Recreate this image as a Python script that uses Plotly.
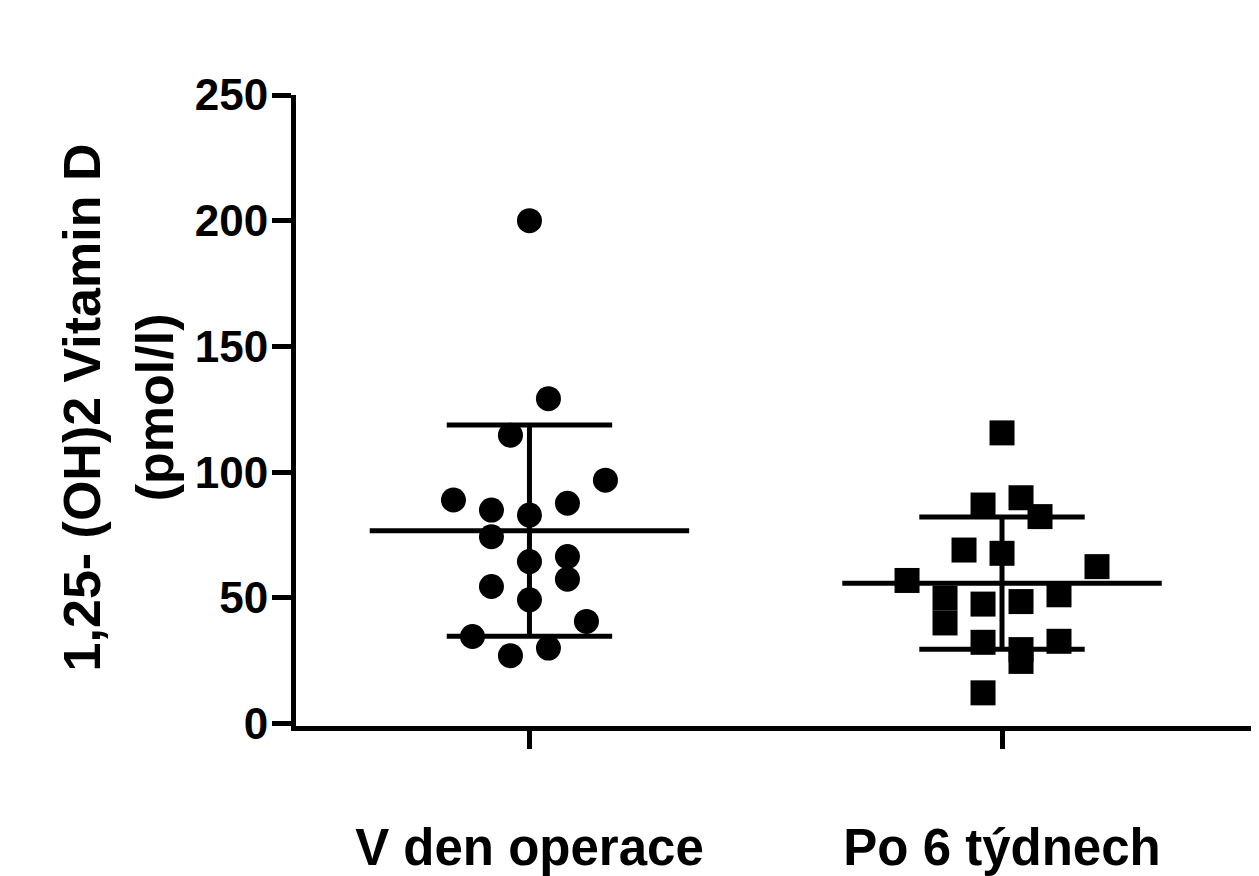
import plotly.graph_objects as go

# ---- data ----
categories = ["V den operace", "Po 6 týdnech"]

g1_values = [200, 129.2, 114.7, 96.8, 88.9, 87.6, 84.9, 82.9, 74.3, 66.4,
             64.4, 57.4, 54.5, 49.2, 40.6, 34.6, 30.0, 27.0]
g1_cols = [0, 1, -1, 4, -4, 2, -2, 0, -2, 2, 0, 2, -2, 0, 3, -3, 1, -1]

g2_values = [115.6, 89.8, 86.9, 82.3, 69.0, 67.7, 62.4, 56.9, 51.2, 49.9,
             48.5, 47.5, 40.0, 32.7, 32.3, 29.4, 24.7, 12.2]
g2_cols = [0, 1, -1, 2, -2, 0, 5, -5, 3, -3, 1, -1, -3, 3, -1, 1, 1, -1]

means = [76.7, 55.8]
sds = [42.0, 26.3]

y_ticks = [0, 50, 100, 150, 200, 250]
title_lines = ["1,25- (OH)2 Vitamin D", "(pmol/l)"]

# ---- styling ----
FONT = "Liberation Sans, Arial, Helvetica, sans-serif"
COL_W = 0.0402     # horizontal spacing of scatter columns (category units)
MEAN_HW = 0.338    # half width of mean line
CAP_HW = 0.175     # half width of SD caps
LW = 5

fig = go.Figure()

groups = [(g1_values, g1_cols, "circle"), (g2_values, g2_cols, "square")]
for i, (vals, cols, sym) in enumerate(groups):
    fig.add_trace(go.Scatter(
        x=[i + c * COL_W for c in cols], y=vals, mode="markers",
        marker=dict(symbol=sym, size=25, color="black", line=dict(width=0)),
        showlegend=False, hoverinfo="y"))

for i, (m, s) in enumerate(zip(means, sds)):
    line = dict(color="black", width=LW)
    fig.add_trace(go.Scatter(x=[i - MEAN_HW, i + MEAN_HW], y=[m, m], mode="lines",
                             line=line, showlegend=False, hoverinfo="skip"))
    fig.add_trace(go.Scatter(x=[i, i], y=[m - s, m + s], mode="lines",
                             line=line, showlegend=False, hoverinfo="skip"))
    for yv in (m - s, m + s):
        fig.add_trace(go.Scatter(x=[i - CAP_HW, i + CAP_HW], y=[yv, yv], mode="lines",
                                 line=line, showlegend=False, hoverinfo="skip"))

title_font = dict(family=FONT, size=52, weight="bold", color="black")
annotations = [
    dict(text=title_lines[0], textangle=-90, xref="paper", yref="paper",
         x=-0.2242, y=0.5044, xanchor="center", yanchor="middle",
         showarrow=False, font=title_font),
    dict(text=title_lines[1], textangle=-90, xref="paper", yref="paper",
         x=-0.1480, y=0.5044, xanchor="center", yanchor="middle",
         showarrow=False, font=title_font),
]

fig.update_layout(
    width=1251, height=868,
    margin=dict(l=287.5, r=7, t=87, b=149.5, autoexpand=False),
    paper_bgcolor="white", plot_bgcolor="white",
    font=dict(family=FONT, color="black"),
    xaxis=dict(
        range=[-0.494, 1.529], tickmode="array", tickvals=[0, 1], ticktext=categories,
        showgrid=False, zeroline=False, showline=True, linecolor="black", linewidth=LW,
        ticks="outside", ticklen=18, tickwidth=LW, tickcolor="black",
        tickfont=dict(family=FONT, size=51, weight="bold", color="black"),
        ticklabelstandoff=55,
    ),
    yaxis=dict(
        range=[-0.99, 250], tickmode="array", tickvals=y_ticks,
        showgrid=False, zeroline=False, showline=True, linecolor="black", linewidth=LW,
        ticks="outside", ticklen=19, tickwidth=LW, tickcolor="black",
        tickfont=dict(family=FONT, size=44, weight="bold", color="black"),
        ticklabelstandoff=-5,
    ),
    annotations=annotations,
)

fig.write_html("out.html")
